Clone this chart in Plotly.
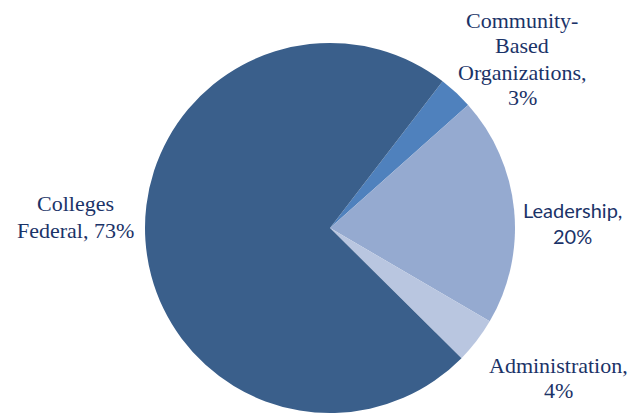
import plotly.graph_objects as go

# Budget shares by program area
categories = ["Community-Based Organizations", "Leadership", "Administration", "Colleges Federal"]
shares = [3, 20, 4, 73]
colors = ["#4F81BD", "#95AAD0", "#B9C6E0", "#3A5F8B"]

W, H = 642, 415
CX, CY, R = 330, 228, 185

fig = go.Figure(go.Pie(
    labels=categories,
    values=shares,
    sort=False,
    direction="clockwise",
    rotation=37.5,
    marker=dict(colors=colors, line=dict(width=0)),
    textinfo="none",
    hoverinfo="label+percent",
    domain=dict(x=[(CX - R) / W, (CX + R) / W], y=[(H - CY - R) / H, (H - CY + R) / H]),
    showlegend=False,
))

serif = dict(family="Liberation Serif", size=22, color="#1B3368")
sans = dict(family="Lato", size=20, color="#1B3368")

# (lines, x centre, y centres in px, font)
label_blocks = [
    (["Community-", "Based", "Organizations,", f"{shares[0]}%"], 522, [20, 46, 72, 97], serif),
    (["Leadership,", f"{shares[1]}%"], 572, [210, 236], sans),
    (["Administration,", f"{shares[2]}%"], 558, [365, 390], serif),
    (["Colleges", f"Federal, {shares[3]}%"], 75, [203, 230], serif),
]

for lines, x, ys, font in label_blocks:
    for text, y in zip(lines, ys):
        fig.add_annotation(
            text=text, x=x / W, y=1 - y / H, xref="paper", yref="paper",
            xanchor="center", yanchor="middle", showarrow=False, font=font,
        )

fig.update_layout(
    width=W, height=H,
    margin=dict(l=0, r=0, t=0, b=0),
    paper_bgcolor="white",
    plot_bgcolor="white",
)

fig.write_html("out.html")
